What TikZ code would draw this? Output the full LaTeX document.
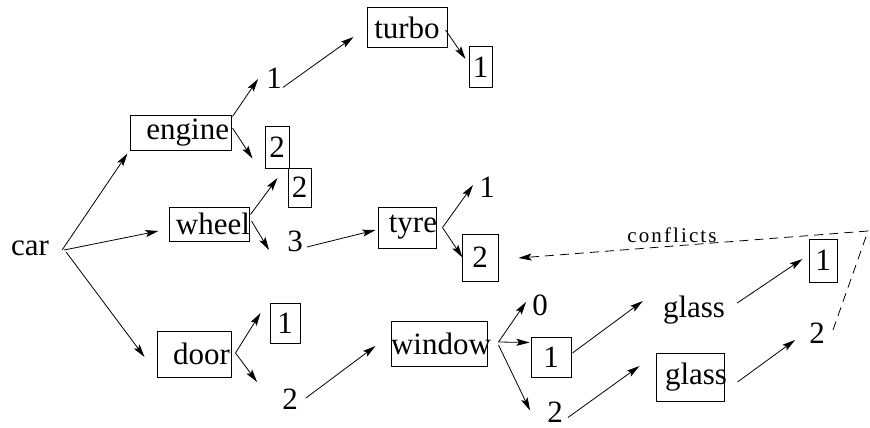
\documentclass[tikz,border=0pt]{standalone}
\usepackage{fontspec}
\setmainfont{Liberation Serif}
\newfontfamily\conffont[LetterSpace=10]{Liberation Serif}
\usetikzlibrary{arrows.meta,calc}
\tikzset{
  lbl/.style={font=\fontsize{31}{36}\selectfont, inner sep=0pt},
  bx/.style={lbl, draw, line width=1pt},
  arr/.style={line width=0.8pt, -{Stealth[length=13pt,width=7pt,inset=2.5pt]}},
  conf/.style={line width=0.8pt, dash pattern=on 9pt off 6pt, -{Stealth[length=13pt,width=7pt,inset=2.5pt]}},
}
\begin{document}
\begin{tikzpicture}[x=1pt,y=-1pt]
\useasboundingbox (0,0) rectangle (870,428);
% nodes
\node[lbl] (car) at (30,248) {car};
\node[bx, minimum height=35pt] (engine) at (180.5,132.5) {\makebox[101pt][r]{engine\hspace{2pt}}};
\node[lbl] (e1) at (274,78) {1};
\node[bx, minimum width=24pt, minimum height=42pt] (e2) at (277,147) {2};
\node[bx, minimum width=80pt, minimum height=40pt] (turbo) at (407,27.5) {turbo};
\node[bx, minimum width=23pt, minimum height=40pt] (t1) at (480.5,67) {1};
\node[bx, minimum height=34pt] (wheel) at (209,224) {\makebox[80pt][r]{wheel\hspace{-1pt}}};
\node[bx, minimum width=23pt, minimum height=39pt] (w2) at (299.5,187.5) {2};
\node[lbl] (w3) at (295,241) {3};
\node[bx, minimum height=41pt] (tyre) at (407,227.5) {\makebox[58pt][r]{tyre\hspace{-1pt}}};
\node[lbl] (ty1) at (487,187) {1};
\node[bx, minimum width=36pt, minimum height=47pt] (ty2) at (480,257.5) {2};
\node[bx, minimum height=46pt] (door) at (194,354) {\makebox[74pt][r]{door\hspace{1pt}}};
\node[bx, minimum width=30pt, minimum height=40pt] (d1) at (285,323) {1};
\node[lbl] (d2) at (290,399) {2};
\node[bx, minimum height=45pt] (window) at (439,343.5) {\makebox[96pt][r]{window\hspace{-4pt}}};
\node[lbl] (wi0) at (540,305) {0};
\node[bx, minimum width=40pt, minimum height=40pt] (wi1) at (551,357) {1};
\node[lbl] (wi2) at (555,412.5) {2};
\node[lbl] (glassA) at (694,310) {glass};
\node[bx, minimum height=48pt] (glassB) at (690,377) {\makebox[68pt][r]{glass\hspace{-3pt}}};
\node[bx, minimum width=28pt, minimum height=43pt] (g1) at (823,260.5) {1};
\node[lbl] (g2) at (817,333) {2};
\node[inner sep=0pt, font=\conffont\fontsize{21}{24}\selectfont] (conflicts) at (672,235) {conflicts};
\coordinate (corner) at (868,231);
% connectors
\draw[arr] ($(car.east)+(13,2)$) -- ($(engine.south west)+(-2,3)$);
\draw[arr] ($(car.east)+(15,2)$) -- ($(wheel.west)+(-10,7)$);
\draw[arr] ($(car.east)+(17,4)$) -- ($(door.west)+(-12,3)$);
\draw[arr] ($(engine.north east)+(1,2)$) -- ($(e1.west)+(-8,1)$);
\draw[arr] ($(engine.east)+(1,-4.5)$) -- ($(e2.south west)+(-12,-10)$);
\draw[arr] ($(e1.south east)+(1,-1)$) -- ($(turbo.west)+(-13,9.5)$);
\draw[arr] ($(turbo.east)+(-2,2.5)$) -- ($(t1.west)+(-3,-8)$);
\draw[arr] ($(wheel.north east)+(1,8)$) -- ($(w2.west)+(-10,-9.5)$);
\draw[arr] ($(wheel.east)+(2,-3)$) -- ($(w3.west)+(-18,9)$);
\draw[arr] ($(w3.east)+(4,6)$) -- ($(tyre.west)+(-2,2.5)$);
\draw[arr] ($(tyre.east)+(6,0)$) -- ($(ty1.west)+(-6,-2)$);
\draw[arr] ($(tyre.east)+(6,0)$) -- ($(ty2.west)+(1,0)$);
\draw[arr] ($(door.east)+(4,-1)$) -- ($(d1.west)+(-9,-10)$);
\draw[arr] ($(door.east)+(4,-1)$) -- ($(d2.west)+(-25,-17)$);
\draw[arr] ($(d2.east)+(8,-1)$) -- ($(window.west)+(-15,2.5)$);
\draw[arr] ($(window.east)+(11,-1.5)$) -- ($(wi0.west)+(-6,-3)$);
\draw[arr] ($(window.east)+(11,-1.5)$) -- ($(wi1.north west)+(-1,6)$);
\draw[arr] ($(window.east)+(11,1.5)$) -- ($(wi2.west)+(-17,-2)$);
\draw[arr] ($(wi1.east)+(1,-4)$) -- ($(glassA.west)+(-20,-9)$);
\draw[arr] ($(wi2.east)+(5,5)$) -- ($(glassB.west)+(-16,-11)$);
\draw[arr] ($(glassA.east)+(12,-7)$) -- ($(g1.west)+(-6,-1.5)$);
\draw[arr] ($(glassB.east)+(13,5)$) -- ($(g2.west)+(-14,7)$);
\draw[conf] ($(g2.east)+(8,-3)$) -- (corner) -- ($(ty2.east)+(20,0.5)$);
\end{tikzpicture}
\end{document}
